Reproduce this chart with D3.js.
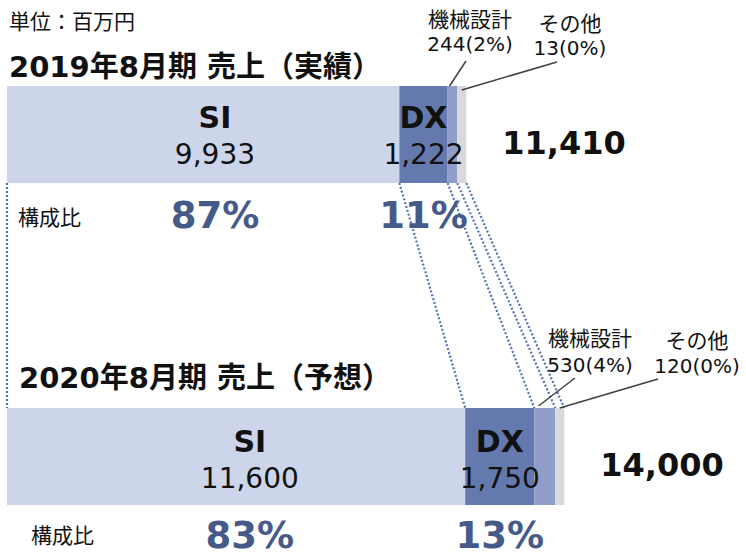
<!DOCTYPE html>
<html><head><meta charset="utf-8">
<script src="https://cdn.jsdelivr.net/npm/d3@7"></script>
<style>
html,body{margin:0;padding:0;background:#fff;}
svg{display:block;}
text{font-family:"DejaVu Sans","Noto Sans CJK JP",sans-serif;}
</style></head>
<body>
<script>
// ---- data ----
const segments = ["SI", "DX", "機械設計", "その他"];
const periods = ["2019年8月期 売上（実績）", "2020年8月期 売上（予想）"];
const sales2019 = [9933, 1222, 244, 13];
const sales2020 = [11600, 1750, 530, 120];
const share2019 = [87, 11, 2, 0];
const share2020 = [83, 13, 4, 0];
const totals = [11410, 14000];
const unitLabel = "単位：百万円";
const ratioLabel = "構成比";

(function () {
const series = [sales2019, sales2020];
const shares = [share2019, share2020];
const colors = ["#cdd5ea", "#6479ad", "#8e9dca", "#d9d9d9"];
const pctColor = "#465a8a";

const W = 746, H = 557;
const svg = d3.select("body").append("svg").attr("width", W).attr("height", H);
svg.append("rect").attr("width", W).attr("height", H).attr("fill", "#fff");

const x = d3.scaleLinear().domain([0, 14000]).range([7, 560]);
const y = d3.scalePoint().domain(periods).range([86, 408]);
const barH = 97;
const minW = 9;
const fmt = d3.format(",");

const geo = series.map((vals, bi) => {
  let cx = x(0);
  return vals.map((v, i) => {
    const w = Math.max(x(v) - x(0), minW);
    const g = {x0: cx, x1: cx + w, v, i, bi};
    cx += w;
    return g;
  });
});

// dotted connectors
const conn = svg.append("g");
const segT = geo[0], segB = geo[1];
const yT = y(periods[0]) + barH, yB = y(periods[1]);
const bounds = [[segT[0].x0, segB[0].x0]].concat(segT.map((d, i) => [d.x1, segB[i].x1]));
bounds.forEach(([a, b]) => {
  conn.append("line").attr("x1", a).attr("y1", yT).attr("x2", b).attr("y2", yB)
    .attr("stroke", "#5472b4").attr("stroke-width", 2.2).attr("stroke-dasharray", "2 2");
});

// bars
geo.forEach((segs, bi) => {
  svg.append("g").selectAll("rect").data(segs).join("rect")
    .attr("x", d => d.x0).attr("y", y(periods[bi]))
    .attr("width", d => d.x1 - d.x0).attr("height", barH)
    .attr("fill", d => colors[d.i]);
});

// unit + titles
svg.append("text").attr("x", 9).attr("y", 29).attr("font-size", 21).attr("fill", "#111").text(unitLabel);
const titlePos = [[9, 77], [19, 388]];
periods.forEach((p, bi) => {
  svg.append("text").attr("x", titlePos[bi][0]).attr("y", titlePos[bi][1])
    .attr("font-size", 29).attr("font-weight", "bold").attr("fill", "#111").text(p);
});

// in-bar labels and shares
const labelFrac = [0.53, 0.5];
const lblY = [[42, 78], [44, 80]];
const pctY = [228, 548];
const ratioPos = [[18, 225], [31, 543]];
geo.forEach((segs, bi) => {
  const by = y(periods[bi]);
  [0, 1].forEach(i => {
    const s = segs[i];
    const cx = s.x0 + (s.x1 - s.x0) * labelFrac[i];
    svg.append("text").attr("x", cx).attr("y", by + lblY[bi][0]).attr("text-anchor", "middle")
      .attr("font-size", 30).attr("font-weight", "bold").attr("fill", "#111").text(segments[i]);
    svg.append("text").attr("x", cx).attr("y", by + lblY[bi][1]).attr("text-anchor", "middle")
      .attr("font-size", 28).attr("fill", "#111").text(fmt(s.v));
    svg.append("text").attr("x", cx).attr("y", pctY[bi]).attr("text-anchor", "middle")
      .attr("font-size", 37).attr("font-weight", "bold").attr("fill", pctColor).text(shares[bi][i] + "%");
  });
  svg.append("text").attr("x", ratioPos[bi][0]).attr("y", ratioPos[bi][1])
    .attr("font-size", 21).attr("fill", "#111").text(ratioLabel);
  const end = segs[segs.length - 1].x1;
  svg.append("text").attr("x", end + 36).attr("y", by + 68)
    .attr("font-size", 32).attr("font-weight", "bold").attr("fill", "#111")
    .text(fmt(totals[bi]));
});

// callouts for small segments
const callouts = [
  [{seg: 2, cx: 470, ny: 27, vy: 51, lx: 466, ly: 61, ty: 0, at: 0.2},
   {seg: 3, cx: 570, ny: 31, vy: 55, lx: 557, ly: 62, ty: 4, at: 0.5}],
  [{seg: 2, cx: 590, ny: 346, vy: 372, lx: 575, ly: 378, ty: -2, at: 0.2},
   {seg: 3, cx: 697, ny: 348, vy: 373, lx: 658, ly: 379, ty: 0, at: 0.5}]
];
callouts.forEach((cs, bi) => {
  const by = y(periods[bi]);
  cs.forEach(c => {
    const s = geo[bi][c.seg];
    svg.append("line").attr("x1", c.lx).attr("y1", c.ly)
      .attr("x2", s.x0 + (s.x1 - s.x0) * c.at).attr("y2", by + c.ty)
      .attr("stroke", "#404040").attr("stroke-width", 1.5);
    svg.append("text").attr("x", c.cx).attr("y", c.ny).attr("text-anchor", "middle")
      .attr("font-size", 21).attr("fill", "#111").text(segments[c.seg]);
    svg.append("text").attr("x", c.cx).attr("y", c.vy).attr("text-anchor", "middle")
      .attr("font-size", 20).attr("fill", "#111").text(s.v + "(" + shares[bi][c.seg] + "%)");
  });
});
})();
</script>
</body></html>
